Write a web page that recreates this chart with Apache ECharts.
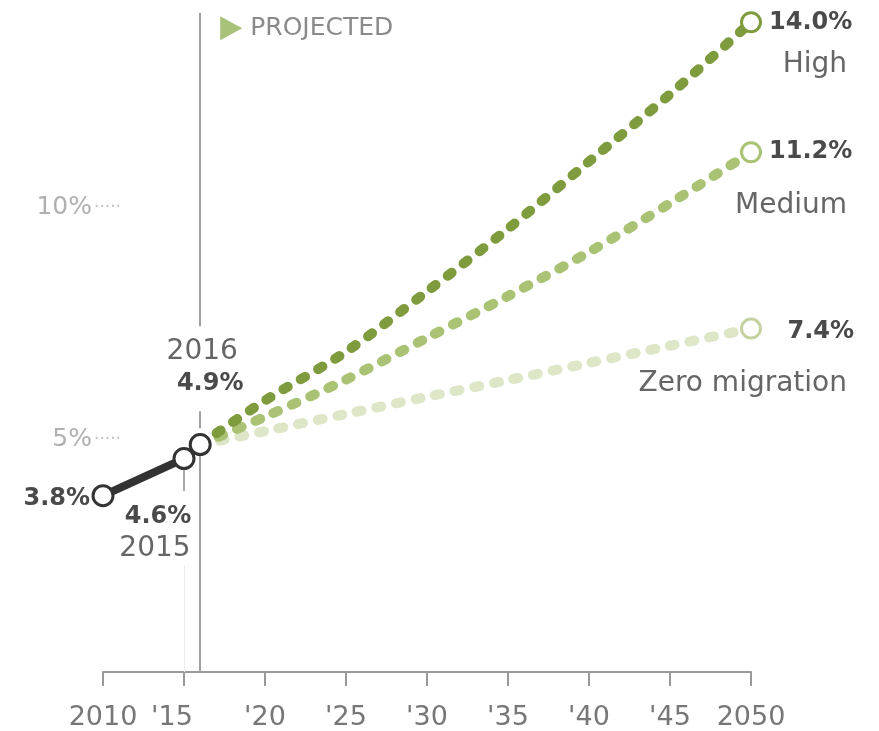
<!DOCTYPE html>
<html>
<head>
<meta charset="utf-8">
<script src="https://cdn.jsdelivr.net/npm/echarts@6/dist/echarts.min.js"></script>
<style>html,body{margin:0;padding:0;background:#fff;}#c{width:879px;height:731px;}</style>
</head>
<body>
<div id="c"></div>
<script>
// ---- data ----
const histYears = [2010, 2015, 2016];
const histValues = [3.8, 4.6, 4.9];
const projYears = [2016, 2020, 2025, 2030, 2035, 2040, 2045, 2050];
const highValues = [4.9, 5.85, 6.9, 8.2, 9.55, 11.0, 12.45, 14.0];
const mediumValues = [4.9, 5.5, 6.3, 7.2, 8.1, 9.05, 10.1, 11.2];
const zeroValues = [4.9, 5.19, 5.56, 5.93, 6.29, 6.66, 7.03, 7.4];
const scenarioNames = ['High', 'Medium', 'Zero migration'];
const xTickYears = [2010, 2015, 2020, 2025, 2030, 2035, 2040, 2045, 2050];
const xTickLabels = ['2010', "'15", "'20", "'25", "'30", "'35", "'40", "'45", '2050'];
const yTickValues = [5, 10];
const yTickLabels = ['5%', '10%'];
const projectedLabel = 'PROJECTED';

const FONT = 'DejaVu Sans';
const pct = v => v.toFixed(1) + '%';
const pair = (xs, ys) => xs.map((x, i) => [x, ys[i]]);

function txt(coord, text, pos, align, opts) {
  return {
    coord: coord, symbol: 'circle', symbolSize: 0,
    label: Object.assign({
      show: true, formatter: text, position: pos, align: align, verticalAlign: 'middle',
      fontFamily: FONT, fontSize: 28, color: '#666'
    }, opts || {})
  };
}
const bold = {fontSize: 24, fontWeight: 'bold', color: '#4a4a4a'};

const last = projYears.length - 1;
const projCfg = [
  {vals: highValues, color: '#7e9b3d', circle: '#7e9b3d', width: 10, z: 4,
   pLab: [[18, 0], 'left'], nLab: [[96, 42], 'right']},
  {vals: mediumValues, color: '#a9c274', circle: '#a9c274', width: 10, z: 3,
   pLab: [[18, 0], 'left'], nLab: [[96, 53], 'right']},
  {vals: zeroValues, color: '#dde6c6', circle: '#c5d2a0', width: 10, z: 2,
   pLab: [[103, 3], 'right'], nLab: [[96, 55], 'right']}
];

const projSeries = projCfg.map((c, k) => ({
  type: 'line', name: scenarioNames[k], z: c.z,
  data: pair(projYears, c.vals),
  smooth: 0.3,
  symbol: (v, p) => p.dataIndex === last ? 'circle' : 'none',
  symbolSize: 19,
  showSymbol: true,
  itemStyle: {color: '#fff', borderColor: c.circle, borderWidth: 3},
  lineStyle: {color: c.color, width: c.width, type: [5, 15], cap: 'round'},
  label: {show: false},
  emphasis: {disabled: true},
  markPoint: {
    silent: true, animation: false,
    data: [
      txt([projYears[last], c.vals[last]], pct(c.vals[last]), c.pLab[0], c.pLab[1], bold),
      txt([projYears[last], c.vals[last]], scenarioNames[k], c.nLab[0], c.nLab[1])
    ]
  }
}));

// reference lines (2016 projection divider, 2015 guide)
const guideSeries = {
  type: 'line', data: [], z: 1, silent: true,
  markLine: {
    silent: true, symbol: 'none', animation: false,
    label: {show: false},
    lineStyle: {color: '#a0a0a0', width: 2, type: 'solid'},
    data: [
      [{coord: [histYears[2], 14.2]}, {coord: [histYears[2], 7.45]}],
      [{coord: [histYears[2], 5.62]}, {coord: [histYears[2], 5.25]}],
      [{coord: [histYears[2], histValues[2]]}, {coord: [histYears[2], 0]}],
      [{coord: [histYears[1], 4.35]}, {coord: [histYears[1], 3.9], lineStyle: {color: '#aaa', width: 2}}],
      [{coord: [histYears[1], 2.3], lineStyle: {color: '#ececec', width: 1}}, {coord: [histYears[1], 0]}]
    ]
  },
  markPoint: {
    silent: true, animation: false,
    data: [{
      coord: [histYears[2], 13.87], symbol: 'triangle', symbolSize: [24, 22], symbolRotate: -90,
      symbolOffset: [31, 0], itemStyle: {color: '#a8c27a'},
      label: {show: true, formatter: projectedLabel, position: 'right', distance: 8,
        fontFamily: FONT, fontSize: 25, color: '#8a8a8a'}
    }]
  }
};

const histSeries = {
  type: 'line', z: 6,
  data: pair(histYears, histValues),
  symbol: 'circle', symbolSize: 20, showSymbol: true,
  itemStyle: {color: '#fff', borderColor: '#333', borderWidth: 3},
  lineStyle: {color: '#333', width: 8},
  emphasis: {disabled: true},
  markPoint: {
    silent: true, animation: false,
    data: [
      txt([histYears[0], histValues[0]], pct(histValues[0]), [-13, 3], 'right', bold),
      txt([histYears[1], histValues[1]], pct(histValues[1]), [-26, 58], 'center', bold),
      txt([histYears[1], histValues[1]], String(histYears[1]), [-29, 90], 'center'),
      txt([histYears[2], histValues[2]], String(histYears[2]), [2, -93], 'center'),
      txt([histYears[2], histValues[2]], pct(histValues[2]), [10, -61], 'center', bold)
    ]
  }
};

const chart = echarts.init(document.getElementById('c'), null, {renderer: 'canvas'});
chart.setOption({
  animation: false,
  backgroundColor: '#fff',
  grid: {left: 103, right: 128, top: 13, bottom: 59, containLabel: false},
  xAxis: {
    type: 'value', min: 2010, max: 2050, interval: 5,
    axisLine: {show: true, lineStyle: {color: '#999', width: 2}},
    axisTick: {show: true, length: 14, lineStyle: {color: '#999', width: 2}},
    splitLine: {show: false},
    axisLabel: {
      margin: 32, fontFamily: FONT, fontSize: 27, color: '#777',
      formatter: v => {
        const i = xTickYears.indexOf(v);
        if (i < 0) return '';
        return v === 2015 ? '{s|' + xTickLabels[i] + '}' : xTickLabels[i];
      },
      rich: {s: {fontFamily: FONT, fontSize: 27, color: '#777', padding: [0, 24, 0, 0]}}
    }
  },
  yAxis: {
    type: 'value', min: 0, max: 14.2, interval: 5,
    axisLine: {show: false}, axisTick: {show: false}, splitLine: {show: false},
    axisLabel: {
      margin: -18,
      formatter: v => {
        const i = yTickValues.indexOf(v);
        return i < 0 ? '' : '{a|' + yTickLabels[i] + '}{b|·····}';
      },
      rich: {
        a: {fontFamily: FONT, fontSize: 25, color: '#b0b0b0'},
        b: {fontFamily: FONT, fontSize: 17, color: '#c0c0c0', padding: [0, 0, 0, 2]}
      }
    }
  },
  series: [guideSeries, projSeries[2], projSeries[1], projSeries[0], histSeries]
});
</script>
</body>
</html>
